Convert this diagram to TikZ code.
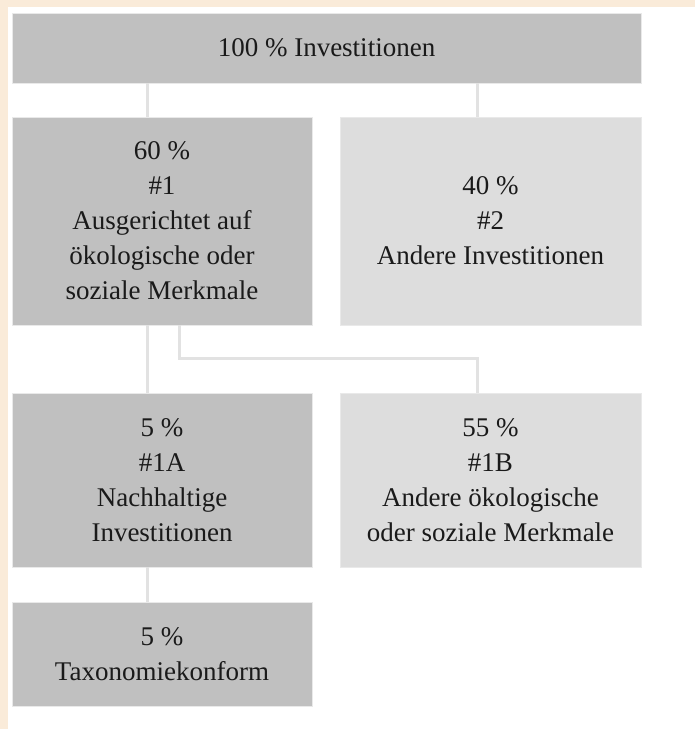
\documentclass[tikz,border=0pt]{standalone}
\usepackage{fontspec}
\setmainfont{Liberation Serif}
\definecolor{peach}{HTML}{FAEBD9}
\definecolor{boxdark}{HTML}{C0C0C0}
\definecolor{boxlight}{HTML}{DDDDDD}
\definecolor{conn}{HTML}{E2E2E2}
\definecolor{edge}{HTML}{E9E9E9}
\definecolor{txt}{HTML}{1A1A1A}
\tikzset{
  box/.style={draw=edge, line width=0.8pt, inner sep=0pt, align=center, text=txt,
    font=\fontsize{27}{35}\selectfont},
  darkbox/.style={box, fill=boxdark},
  lightbox/.style={box, fill=boxlight},
  link/.style={draw=conn, line width=3pt}
}
\begin{document}
\begin{tikzpicture}[x=1pt,y=-1pt]
\fill[peach] (0,0) rectangle (695,729);
\fill[white] (8,7) rectangle (695,729);
\useasboundingbox (0,0) rectangle (695,729);

\coordinate (cL) at (147,0);
\coordinate (cM) at (179,0);
\coordinate (cR) at (477,0);

\node[darkbox, minimum width=629pt, minimum height=70pt] (top) at (326.5,48) {100 \% Investitionen};
\node[darkbox, minimum width=300pt, minimum height=208pt] (n1) at (162,221) {60 \%\\\#1\\Ausgerichtet auf\\ökologische oder\\soziale Merkmale};
\node[lightbox, minimum width=301pt, minimum height=208pt] (n2) at (490.5,221) {40 \%\\\#2\\Andere Investitionen};
\node[darkbox, minimum width=300pt, minimum height=174pt] (n1a) at (162,480) {5 \%\\\#1A\\Nachhaltige\\Investitionen};
\node[lightbox, minimum width=301pt, minimum height=174pt] (n1b) at (490.5,480) {55 \%\\\#1B\\Andere ökologische\\oder soziale Merkmale};
\node[darkbox, minimum width=300pt, minimum height=104pt] (tax) at (162,654) {5 \%\\Taxonomiekonform};

\coordinate (bend) at (179,358);

\draw[link] (top.south -| cL) -- (n1.north -| cL);
\draw[link] (top.south -| cR) -- (n2.north -| cR);
\draw[link] (n1.south -| cL) -- (n1a.north -| cL);
\draw[link] (n1.south -| cM) -- (bend) -| (n1b.north -| cR);
\draw[link] (n1a.south -| cL) -- (tax.north -| cL);
\end{tikzpicture}
\end{document}
